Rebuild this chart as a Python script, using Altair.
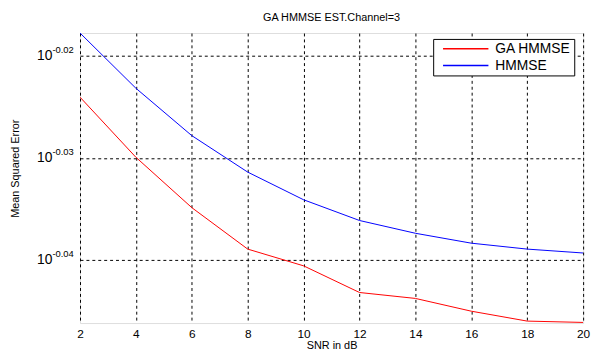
import altair as alt
import pandas as pd

snr = [2, 4, 6, 8, 10, 12, 14, 16, 18, 20]
ga_log = [-2.406, -2.995, -3.488, -3.894, -4.058, -4.319, -4.377, -4.502, -4.599, -4.612]
hm_log = [-1.778, -2.319, -2.783, -3.140, -3.411, -3.614, -3.739, -3.836, -3.894, -3.932]
series = ["GA HMMSE", "HMMSE"]
colors = ["#ff0000", "#0000ff"]
ytick_vals = [1e-2, 1e-3, 1e-4]
ytick_sup = ["-0.02", "-0.03", "-0.04"]
x_ticks = [2, 4, 6, 8, 10, 12, 14, 16, 18, 20]

rows = []
for s, vals in zip(series, [ga_log, hm_log]):
    for x, v in zip(snr, vals):
        rows.append({"snr": x, "mse": 10 ** v, "series": s})
df = pd.DataFrame(rows)
tick_df = pd.DataFrame({"v": ytick_vals, "sup": ytick_sup})

FONT = "Liberation Sans"
ydom = [10 ** -4.618, 10 ** -1.778]

yscale = alt.Scale(type="log", domain=ydom, nice=False)
xscale = alt.Scale(domain=[2, 20], nice=False, zero=False)

lines = alt.Chart(df).mark_line(strokeWidth=1, clip=True).encode(
    x=alt.X("snr:Q", scale=xscale,
            axis=alt.Axis(values=x_ticks, title="SNR in dB", grid=True,
                          gridDash=[3, 3], gridColor="#000000", gridOpacity=1,
                          labelFont=FONT, labelFontSize=12, labelColor="#000",
                          titleFont=FONT, titleFontSize=11, titleFontWeight="normal",
                          titleColor="#000", labelPadding=6, titlePadding=0,
                          tickSize=0, domain=False, labelFlush=False)),
    y=alt.Y("mse:Q", scale=yscale,
            axis=alt.Axis(values=ytick_vals, labels=False, ticks=False, domain=False,
                          grid=True, gridDash=[3, 3], gridColor="#000000", gridOpacity=1,
                          title="Mean Squared Error", titleFont=FONT, titleFontSize=11,
                          titleFontWeight="normal", titleColor="#000",
                          titleX=-62, titleY=137, titleAngle=270,
                          titleAlign="center", titleBaseline="alphabetic")),
    color=alt.Color("series:N", scale=alt.Scale(domain=series, range=colors),
                    legend=alt.Legend(title=None, orient="none", legendX=358, legendY=6,
                                      symbolType="stroke", symbolSize=2116,
                                      symbolStrokeWidth=1.5, clipHeight=14,
                                      labelFont=FONT, labelFontSize=14, labelColor="#000",
                                      strokeColor="#000000", fillColor="#ffffff",
                                      padding=3, rowPadding=3, labelOffset=6,
                                      symbolOffset=6, labelLimit=200)),
)

base_lbl = alt.Chart(tick_df).mark_text(align="right", baseline="middle", font=FONT,
                                        fontSize=14, color="#000").encode(
    x=alt.value(-28), y=alt.Y("v:Q", scale=yscale), text=alt.value("10"))
sup_lbl = alt.Chart(tick_df).mark_text(align="left", baseline="middle", font=FONT,
                                       fontSize=9.5, color="#000", dy=-6).encode(
    x=alt.value(-28), y=alt.Y("v:Q", scale=yscale), text="sup:N")

chart = alt.layer(lines, base_lbl, sup_lbl).properties(
    width=510, height=294,
    title=alt.Title("GA HMMSE EST.Channel=3", font=FONT, fontSize=11,
                    fontWeight="normal", color="#000", offset=10),
    autosize=alt.AutoSizeParams(type="none"),
    padding={"left": 73, "top": 23, "right": 9, "bottom": 27},
).configure_view(stroke="#444444", strokeWidth=1.5).configure(background="#ffffff")

chart.save("out.html", embed_options={"renderer": "svg", "actions": False})
